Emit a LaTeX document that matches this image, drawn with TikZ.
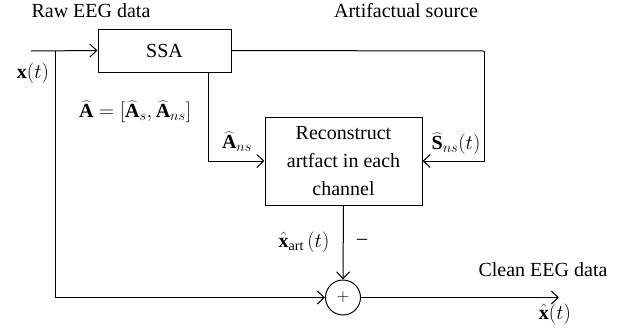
\documentclass[tikz,border=0pt]{standalone}
\usepackage{fontspec}
\setmainfont{Liberation Serif}
\usetikzlibrary{arrows.meta}
\begin{document}
\begin{tikzpicture}[x=1pt,y=-1pt,
  every node/.style={font=\fontsize{20}{28}\selectfont, inner sep=0pt},
  blockbox/.style={draw, line width=1pt, rectangle, align=center},
  sumnode/.style={draw, line width=1pt, circle, minimum size=35pt},
  wire/.style={line width=1pt},
  flow/.style={wire, -{Straight Barb[length=7pt,width=13pt,line width=1pt]}},
  lbl/.style={anchor=center}]
  \useasboundingbox (0,0) rectangle (627,335);

  % blocks
  \node[blockbox, minimum width=157pt, minimum height=88pt] (rec) at (343.5,161)
    {Reconstruct\\artfact in each\\channel};
  \node[blockbox, minimum width=133pt, minimum height=43pt] (ssa) at (164.5,50.5) {SSA};
  \node[sumnode] (sum) at (343,297.5) {\fontsize{16}{18}\selectfont$+$};

  % junction points of the wiring
  \coordinate (in) at (31,51);
  \coordinate (split) at (55,51);
  \coordinate (srcturn) at (484,51);
  \coordinate (mixtap) at (208,72);
  \coordinate (out) at (559,297.5);

  % signal paths
  \draw[flow] (in) -- (ssa.west);
  \draw[wire] (ssa.east) -- (srcturn);
  \draw[flow] (srcturn) |- (rec.east);
  \draw[flow] (mixtap) |- (rec.west);
  \draw[flow] (split) |- (sum.west);
  \draw[flow] (rec.south) -- (sum.north);
  \draw[flow] (sum.east) -- (out);

  % labels
  \node[lbl] (rawlbl) at (91,11) {Raw EEG data};
  \node[lbl] (artlbl) at (406,11) {Artifactual source};
  \node[lbl] (xlbl) at (33,73) {$\mathbf{x}(t)$};
  \node[lbl] (albl) at (135,112) {$\widehat{\mathbf{A}}=[\widehat{\mathbf{A}}_s,\widehat{\mathbf{A}}_{ns}]$};
  \node[lbl] (anslbl) at (237,142) {$\widehat{\mathbf{A}}_{ns}$};
  \node[lbl] (slbl) at (456,144) {$\widehat{\mathbf{S}}_{ns}(t)$};
  \node[lbl] (xartlbl) at (304,242) {$\hat{\mathbf{x}}_{\mathrm{art}}\,(t)$};
  \node[lbl] (minuslbl) at (362,242) {--};
  \node[lbl] (cleanlbl) at (543,270) {Clean EEG data};
  \node[lbl] (xhatlbl) at (555,314) {$\hat{\mathbf{x}}(t)$};
\end{tikzpicture}
\end{document}
